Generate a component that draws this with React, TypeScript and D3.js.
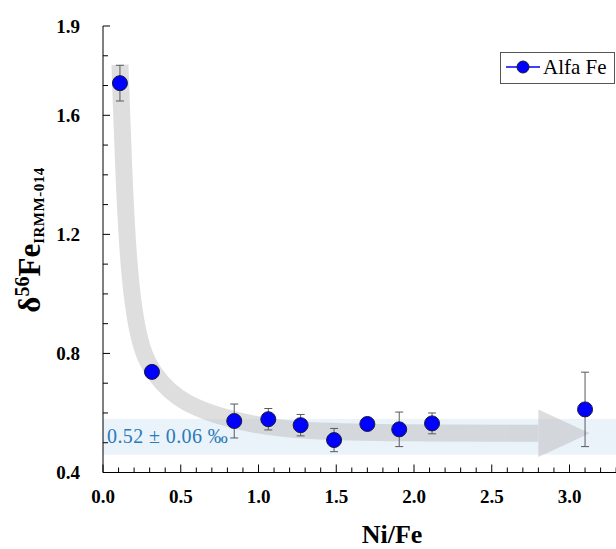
import React from "react";
import * as d3 from "d3";

const niFe = [0.109, 0.315, 0.844, 1.063, 1.271, 1.486, 1.7, 1.905, 2.116, 3.1];
const delta56 = [1.708, 0.738, 0.573, 0.579, 0.559, 0.509, 0.563, 0.545, 0.565, 0.612];
const errors = [0.06, 0.012, 0.057, 0.036, 0.036, 0.039, 0.01, 0.058, 0.035, 0.125];

const xTicks = [0, 0.5, 1.0, 1.5, 2.0, 2.5, 3.0];
const yTicks = [0.4, 0.8, 1.2, 1.6, 1.9];

const bandMean = 0.52;
const bandSd = 0.06;
const bandLabel = "0.52 ± 0.06 ‰";
const seriesName = "Alfa Fe";

// trend arrow centerline (data coordinates)
const arrowX = [0.109, 0.13, 0.16, 0.2, 0.25, 0.315, 0.5, 0.95, 1.28, 1.93, 2.8];
const arrowY = [1.77, 1.45, 1.12, 0.93, 0.81, 0.738, 0.626, 0.559, 0.539, 0.532, 0.532];
const arrowHead = { baseX: 2.8, tipX: 3.13, half: 0.08 };

const W = 616;
const H = 549;
const SERIF = "'Liberation Serif', 'Times New Roman', serif";

export default function App() {
  const x = d3.scaleLinear().domain([0, 3.3]).range([103, 103 + 3.3 * 155.5]);
  const y = d3.scaleLinear().domain([0.4, 1.9]).range([472.5, 26]);

  const xMinor = d3.range(0, 3.31, 0.1).map((v) => +v.toFixed(2));
  const yMinor = d3.range(0.4, 1.91, 0.1).map((v) => +v.toFixed(2));

  const line = d3
    .line<number>()
    .x((_, i) => x(arrowX[i]))
    .y((d) => y(d))
    .curve(d3.curveBasis);
  const shaft = line(arrowY) || "";

  const headY = arrowY[arrowY.length - 1];
  const headPts = [
    [x(arrowHead.baseX), y(headY + arrowHead.half)],
    [x(arrowHead.tipX), y(headY)],
    [x(arrowHead.baseX), y(headY - arrowHead.half)],
  ];

  const x0 = x(0);
  const yBottom = y(0.4);
  const txt = { fontFamily: SERIF };

  return (
    <div style={{ position: "absolute", left: 0, top: 0 }}>
      <svg width={W} height={H} style={{ display: "block", background: "#fff", fontFamily: SERIF }}>
        {/* reference band */}
        <rect
          x={x0}
          y={y(bandMean + bandSd)}
          width={W - x0}
          height={y(bandMean - bandSd) - y(bandMean + bandSd)}
          fill="#eaf2fa"
        />
        {/* trend arrow */}
        <g opacity={0.5}>
          <path d={shaft} fill="none" stroke="#bdbdbd" strokeWidth={17} />
          <polygon points={headPts.map((p) => p.join(",")).join(" ")} fill="#bdbdbd" />
        </g>
        <text x={x0 + 4} y={y(bandMean) + 6} fontSize={20} letterSpacing={0.4} fill="#2a7ab8" style={txt}>
          {bandLabel}
        </text>

        {/* error bars */}
        {niFe.map((v, i) => {
          const cx = x(v);
          const y1 = y(delta56[i] + errors[i]);
          const y2 = y(delta56[i] - errors[i]);
          return (
            <g key={"e" + i} stroke="#5a5a5a" strokeWidth={1}>
              <line x1={cx} x2={cx} y1={y1} y2={y2} />
              <line x1={cx - 4} x2={cx + 4} y1={y1} y2={y1} />
              <line x1={cx - 4} x2={cx + 4} y1={y2} y2={y2} />
            </g>
          );
        })}
        {/* markers */}
        {niFe.map((v, i) => (
          <circle key={"p" + i} cx={x(v)} cy={y(delta56[i])} r={7.5} fill="#0000ff" stroke="#1a1a3a" strokeWidth={1} />
        ))}

        {/* axes */}
        <line x1={x0} x2={x0} y1={y(1.9)} y2={yBottom} stroke="#000" strokeWidth={1} />
        <line x1={x0} x2={W} y1={yBottom} y2={yBottom} stroke="#000" strokeWidth={1} />
        {yMinor.map((v) => (
          <line key={"ym" + v} x1={x0} x2={x0 + (yTicks.includes(v) ? 7 : 5)} y1={y(v)} y2={y(v)} stroke="#000" strokeWidth={1} />
        ))}
        {xMinor.map((v) => (
          <line
            key={"xm" + v}
            x1={x(v)}
            x2={x(v)}
            y1={yBottom}
            y2={yBottom - (Math.abs(v * 2 - Math.round(v * 2)) < 1e-6 ? 8 : 5)}
            stroke="#000"
            strokeWidth={1}
          />
        ))}
        {yTicks.map((v) => (
          <text key={"yt" + v} x={80} y={y(v)} dy="0.35em" textAnchor="end" fontSize={19} fontWeight="bold" style={txt}>
            {v.toFixed(1)}
          </text>
        ))}
        {xTicks.map((v) => (
          <text key={"xt" + v} x={x(v)} y={503} textAnchor="middle" fontSize={19} fontWeight="bold" style={txt}>
            {v.toFixed(1)}
          </text>
        ))}
        <text x={392} y={543} textAnchor="middle" fontSize={26} fontWeight="bold" style={txt}>
          Ni/Fe
        </text>
        <text transform="translate(40,240) rotate(-90)" textAnchor="middle" fontWeight="bold" fontSize={31} style={txt}>
          <tspan>δ</tspan>
          <tspan fontSize={20} dy={-11}>56</tspan>
          <tspan dy={11}>Fe</tspan>
          <tspan fontSize={15} dy={4} letterSpacing={0.5}>IRMM-014</tspan>
        </text>

        {/* legend */}
        <rect x={500.5} y={52.5} width={114} height={31} fill="#fff" stroke="#555" strokeWidth={1} />
        <line x1={506} x2={540} y1={67} y2={67} stroke="#0000ff" strokeWidth={1.5} />
        <circle cx={523} cy={67} r={6} fill="#0000ff" stroke="#1a1a3a" strokeWidth={1} />
        <text x={543} y={74} fontSize={21} style={txt}>
          {seriesName}
        </text>
      </svg>
    </div>
  );
}
